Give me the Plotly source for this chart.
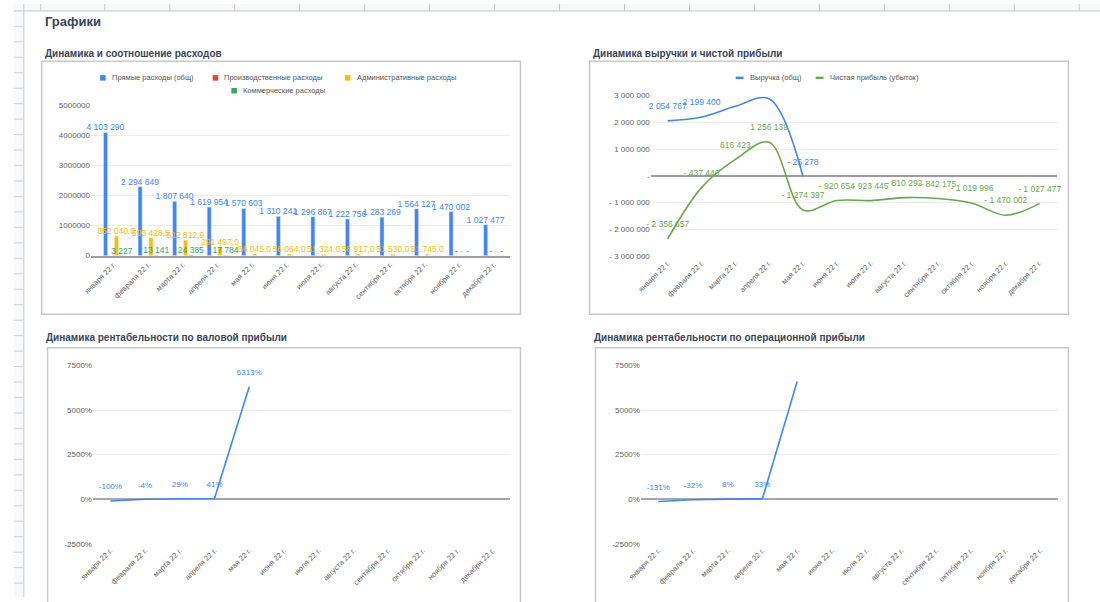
import plotly.graph_objects as go

W, H = 1100, 602

months = ["января 22 г.", "февраля 22 г.", "марта 22 г.", "апреля 22 г.", "мая 22 г.", "июня 22 г.",
          "июля 22 г.", "августа 22 г.", "сентября 22 г.", "октября 22 г.", "ноября 22 г.", "декабря 22 г."]

# Chart 1: expenses
cost_names = ["Прямые расходы (общ)", "Производственные расходы", "Административные расходы", "Коммерческие расходы"]
direct_costs = [4103290, 2294649, 1807640, 1619954, 1570603, 1310241, 1296867, 1222756, 1283269, 1564127, 1470002, 1027477]
production_costs = [None, None, None, None, None, None, None, None, None, None, 0, 0]
admin_costs = [652040.0, 593428.5, 512812.9, 291497.0, 56045.0, 56064.0, 51324.0, 58917.0, 51530.0, 51745.0, 0, 0]
commercial_costs = [3227, 13141, 24385, 17784, None, None, None, None, None, None, 0, 0]

# Chart 2: revenue and net profit
line_names = ["Выручка (общ)", "Чистая прибыль (убыток)"]
revenue = [2054767, 2199400, 2600000, 2880000, -25278, None, None, None, None, None, None, None]
revenue_label = [True, True, False, False, True, False, False, False, False, False, False, False]
net_profit = [-2356657, -437440, 616423, 1256139, -1274397, -920654, -923445, -810292, -842175, -1019996, -1470002, -1027477]
profit_ticks = [3000000, 2000000, 1000000, 0, -1000000, -2000000, -3000000]

# Chart 3 / 4: margins, %
gross_margin = [-100, -4, 29, 41, 6313, None, None, None, None, None, None, None]
gross_label = [True, True, True, True, True, False, False, False, False, False, False, False]
op_margin = [-131, -32, 8, 33, 6600, None, None, None, None, None, None, None]
op_label = [True, True, True, True, False, False, False, False, False, False, False, False]
pct_ticks = [7500, 5000, 2500, 0, -2500]

BLUE, RED, YELLOW, GREEN = "#4285F4", "#EA4335", "#FBBC04", "#34A853"
GREEN_LINE = "#6aa84f"
FONT = "Liberation Sans, Arial, sans-serif"
TICK_C = "#5f5f5f"
GRID_C = "#ececec"


def px_x(p):
    return p / W


def px_y(p):
    return 1 - p / H


def fmt_int(v):
    if v is None:
        return ""
    if v == 0:
        return "-"
    s = f"{abs(v):,.0f}".replace(",", " ")
    return ("- " + s) if v < 0 else s


def fmt_dec(v):
    if v is None:
        return ""
    if v == 0:
        return "-"
    return f"{v:,.1f}".replace(",", " ").replace(".", ",")


fig = go.Figure()

# ---------- chart 1 bars ----------
bar_series = [
    (cost_names[0], direct_costs, BLUE, fmt_int),
    (cost_names[1], production_costs, RED, fmt_int),
    (cost_names[2], admin_costs, YELLOW, fmt_dec),
    (cost_names[3], commercial_costs, GREEN, fmt_int),
]
for name, vals, col, f in bar_series:
    fig.add_trace(go.Bar(
        x=months, y=vals, name=name, marker_color=col, xaxis="x", yaxis="y",
        text=[f(v) for v in vals], textposition="outside", textangle=0,
        constraintext="none", cliponaxis=False,
        textfont=dict(color=col, size=8.5, family=FONT), showlegend=False,
    ))

# ---------- chart 2 lines ----------
fig.add_trace(go.Scatter(
    x=months, y=revenue, name=line_names[0], xaxis="x2", yaxis="y2",
    mode="lines+markers+text", line=dict(color=BLUE, width=1.6, shape="spline", smoothing=1.0),
    marker=dict(size=14, opacity=0), text=[fmt_int(v) if s else "" for v, s in zip(revenue, revenue_label)],
    textposition="top center", textfont=dict(color=BLUE, size=8.5, family=FONT),
    cliponaxis=False, showlegend=False, connectgaps=False,
))
fig.add_trace(go.Scatter(
    x=months, y=net_profit, name=line_names[1], xaxis="x2", yaxis="y2",
    mode="lines+markers+text", line=dict(color=GREEN_LINE, width=1.6, shape="spline", smoothing=1.0),
    marker=dict(size=14, opacity=0), text=[fmt_int(v) for v in net_profit],
    textposition="top center", textfont=dict(color=GREEN_LINE, size=8.5, family=FONT),
    cliponaxis=False, showlegend=False,
))

# ---------- charts 3 and 4 ----------
for vals, shown, xa, ya in [(gross_margin, gross_label, "x3", "y3"), (op_margin, op_label, "x4", "y4")]:
    fig.add_trace(go.Scatter(
        x=months, y=vals, xaxis=xa, yaxis=ya, mode="lines+markers+text",
        line=dict(color=BLUE, width=1.6), marker=dict(size=14, opacity=0),
        text=[(f"{v:.0f}%" if s else "") for v, s in zip(vals, shown)],
        textposition="top center", textfont=dict(color=BLUE, size=8, family=FONT),
        cliponaxis=False, showlegend=False,
    ))

tickfont_x = dict(size=7.5, color=TICK_C, family=FONT)
tickfont_y = dict(size=8, color=TICK_C, family=FONT)

common_x = dict(type="category", tickangle=-45, showgrid=False, ticks="", tickfont=tickfont_x, fixedrange=True)

layout = dict(
    width=W, height=H, margin=dict(l=0, r=0, t=0, b=0),
    paper_bgcolor="white", plot_bgcolor="white",
    barmode="group", bargap=0.37, bargroupgap=0.25,
    font=dict(family=FONT),
    xaxis=dict(domain=[px_x(78), px_x(502)], anchor="y", range=[-0.657, 11.457],
               showline=True, linecolor="#9e9e9e", linewidth=1.5, **common_x),
    yaxis=dict(domain=[px_y(255.5), px_y(103)], anchor="x", range=[0, 5000000], dtick=1000000,
               tickformat="d", gridcolor=GRID_C, zeroline=False, tickfont=tickfont_y, ticks=""),
    xaxis2=dict(domain=[px_x(645), px_x(1056)], anchor="y2", range=[-0.5, 11.5], **common_x),
    yaxis2=dict(domain=[px_y(256), px_y(93)], anchor="x2", range=[-3000000, 3000000],
                tickvals=profit_ticks, ticktext=[fmt_int(v) for v in profit_ticks],
                gridcolor=GRID_C, zeroline=True, zerolinecolor="#9e9e9e", zerolinewidth=1.5,
                tickfont=tickfont_y, ticks=""),
    xaxis3=dict(domain=[px_x(80), px_x(502)], anchor="y3", range=[-0.5, 11.5], **common_x),
    yaxis3=dict(domain=[px_y(548), px_y(367)], anchor="x3", range=[-2500, 7500],
                tickvals=pct_ticks, ticktext=[f"{v}%" for v in pct_ticks],
                gridcolor=GRID_C, zeroline=True, zerolinecolor="#a8a8a8", zerolinewidth=1.5,
                tickfont=tickfont_y, ticks=""),
    xaxis4=dict(domain=[px_x(635), px_x(1057)], anchor="y4", range=[-0.5, 11.5], **common_x),
    yaxis4=dict(domain=[px_y(548), px_y(367)], anchor="x4", range=[-2500, 7500],
                tickvals=pct_ticks, ticktext=[f"{v}%" for v in pct_ticks],
                gridcolor=GRID_C, zeroline=True, zerolinecolor="#a8a8a8", zerolinewidth=1.5,
                tickfont=tickfont_y, ticks=""),
)
fig.update_layout(**layout)

shapes = []
annotations = []

# spreadsheet chrome: header strip and left row strip
shapes.append(dict(type="rect", xref="paper", yref="paper", x0=0, x1=1, y0=px_y(7), y1=1,
                   fillcolor="#f8f9fa", line=dict(width=0), layer="below"))
shapes.append(dict(type="line", xref="paper", yref="paper", x0=0, x1=1, y0=px_y(7), y1=px_y(7),
                   line=dict(color="#c7c7c7", width=1)))
col_x = [10, 27]
c = 92
while c < W:
    col_x.append(c)
    c += 65.8
for cx in col_x:
    shapes.append(dict(type="line", xref="paper", yref="paper", x0=px_x(cx), x1=px_x(cx), y0=px_y(7), y1=1,
                       line=dict(color="#c7c7c7", width=1)))
shapes.append(dict(type="rect", xref="paper", yref="paper", x0=0, x1=px_x(10), y0=0, y1=px_y(7),
                   fillcolor="#f8f9fa", line=dict(width=0), layer="below"))
shapes.append(dict(type="line", xref="paper", yref="paper", x0=px_x(10), x1=px_x(10), y0=0, y1=px_y(7),
                   line=dict(color="#c7c7c7", width=1)))
r = 7 + 15.7
while r < H:
    shapes.append(dict(type="line", xref="paper", yref="paper", x0=0, x1=px_x(10), y0=px_y(r), y1=px_y(r),
                       line=dict(color="#d0d0d0", width=1)))
    r += 15.7

# chart frames
frames = [(28, 513, 58, 315), (583, 1068, 58, 315), (34, 513, 349, 610), (589, 1068, 349, 610)]
for x0, x1, y0, y1 in frames:
    shapes.append(dict(type="rect", xref="paper", yref="paper", x0=px_x(x0), x1=px_x(x1),
                       y0=px_y(y1), y1=px_y(y0), line=dict(color="#c9c9c9", width=1.5),
                       fillcolor="rgba(0,0,0,0)", layer="below"))

TITLE_C = "#3a4556"
annotations.append(dict(text="<b>Графики</b>", xref="paper", yref="paper", x=px_x(29), y=px_y(18),
                        xanchor="left", yanchor="middle", showarrow=False,
                        font=dict(size=13, color=TITLE_C, family=FONT)))
titles = [("Динамика и соотношение расходов", 29, 50), ("Динамика выручки и чистой прибыли", 584, 50),
          ("Динамика рентабельности по валовой прибыли", 30, 339),
          ("Динамика рентабельности по операционной прибыли", 585, 339)]
for t, x, y in titles:
    annotations.append(dict(text=f"<b>{t}</b>", xref="paper", yref="paper", x=px_x(x), y=px_y(y),
                            xanchor="left", yanchor="middle", showarrow=False,
                            font=dict(size=10, color=TITLE_C, family=FONT)))

# legend chart 1
leg_font = dict(size=7.5, color="#555555", family=FONT)
leg1 = [(cost_names[0], BLUE, 90, 75), (cost_names[1], RED, 204, 75), (cost_names[2], YELLOW, 338, 75),
        (cost_names[3], GREEN, 223, 88)]
for name, col, x, y in leg1:
    shapes.append(dict(type="rect", xref="paper", yref="paper", x0=px_x(x - 2.8), x1=px_x(x + 2.8),
                       y0=px_y(y + 2.8), y1=px_y(y - 2.8), fillcolor=col, line=dict(width=0)))
    annotations.append(dict(text=name, xref="paper", yref="paper", x=px_x(x + 7), y=px_y(y),
                            xanchor="left", yanchor="middle", showarrow=False, font=leg_font))
# legend chart 2
leg2 = [(line_names[0], BLUE, 735, 75), (line_names[1], GREEN_LINE, 816, 75)]
for name, col, x, y in leg2:
    shapes.append(dict(type="line", xref="paper", yref="paper", x0=px_x(x - 4), x1=px_x(x + 4),
                       y0=px_y(y), y1=px_y(y), line=dict(color=col, width=2.5)))
    annotations.append(dict(text=name, xref="paper", yref="paper", x=px_x(x + 8), y=px_y(y),
                            xanchor="left", yanchor="middle", showarrow=False, font=leg_font))

fig.update_layout(shapes=shapes, annotations=annotations)
fig.write_html("out.html")
